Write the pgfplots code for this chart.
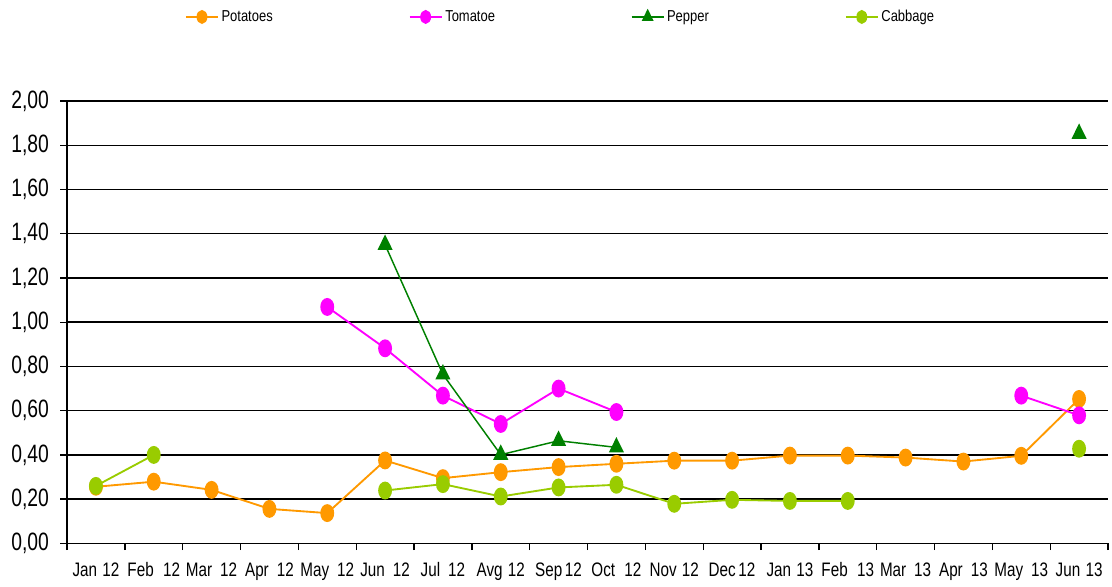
\documentclass[border=0pt]{standalone}
\usepackage{fontspec}
\setmainfont{Liberation Sans}[FakeStretch=0.82]
\newfontfamily\yfont{Liberation Sans}[FakeStretch=0.77]
\newfontfamily\xfont{Liberation Sans}[FakeStretch=0.78]
\usepackage{pgfplots}
\pgfplotsset{compat=1.18}
\definecolor{cpot}{HTML}{FF9900}
\definecolor{ctom}{HTML}{FF00FF}
\definecolor{cpep}{HTML}{008000}
\definecolor{ccab}{HTML}{99CC00}
\begin{document}
\begin{tikzpicture}
\begin{axis}[name=ax, scale only axis, width=780.75bp, height=331.8bp,
  xmin=-0.5, xmax=17.5, ymin=0, ymax=2,
  axis x line=bottom, axis y line=left,
  axis line style={-, line width=1.3bp, black},
  xtick={-0.5,0.5,...,17.5}, xticklabels={},
  extra x ticks={0,1,...,17},
  extra x tick labels={Jan\hspace{4bp}12,Feb\hspace{7bp}12,Mar\hspace{6bp}12,Apr\hspace{6bp}12,May\hspace{6bp}12,Jun\hspace{6bp}12,Jul\hspace{6bp}12,Avg\hspace{4bp}12,Sep\hspace{2bp}12,Oct\hspace{7bp}12,Nov\hspace{4bp}12,Dec\hspace{2bp}12,Jan\hspace{4bp}13,Feb\hspace{7bp}13,Mar\hspace{6bp}13,Apr\hspace{6bp}13,May\hspace{6bp}13,Jun\hspace{4bp}13},
  extra x tick style={major tick length=0pt, grid=none},
  ytick={0,0.2,0.4,0.6,0.8,1.0,1.2,1.4,1.6,1.8,2.0},
  major tick length=5bp, tick align=outside,
  tick style={black, line width=1bp},
  ymajorgrids, major grid style={black, line width=1.1bp},
  yticklabel style={font=\yfont\fontsize{18.9}{21}\selectfont, xshift=-5bp,
    /pgf/number format/.cd, fixed, fixed zerofill, precision=2, use comma, assume math mode=true},
  xticklabel style={font=\xfont\fontsize{14.7}{17}\selectfont, yshift=-11bp},
  unbounded coords=jump,
  legend columns=4,
  legend style={draw=none, fill=none, at={(0.1134,1.19)}, anchor=west,
    inner sep=0pt, outer sep=0pt, font=\fontsize{11.9}{14}\selectfont,
    /tikz/every even column/.append style={column sep=100bp}},
  legend image code/.code={\draw[mark repeat=2, mark phase=2, #1, every mark/.append style={scale=0.75}] plot coordinates {(0bp,0bp) (12bp,0bp) (24bp,0bp)};},
  every axis plot/.append style={line width=1.4bp},
]
\addplot[color=cpot, mark=*, mark size=6bp, mark options={xscale=0.75}] coordinates {
(0,0.256)(1,0.279)(2,0.242)(3,0.156)(4,0.137)(5,0.375)(6,0.295)(7,0.322)(8,0.345)(9,0.360)(10,0.374)(11,0.374)(12,0.397)(13,0.397)(14,0.388)(15,0.370)(16,0.396)(17,0.653)};
\addlegendentry{Potatoes}
\addplot[color=ctom, mark=*, mark size=6bp, mark options={xscale=0.75}] coordinates {
(4,1.069)(5,0.882)(6,0.668)(7,0.540)(8,0.700)(9,0.594)(10,nan)(16,0.668)(17,0.579)};
\addlegendentry{Tomatoe}
\addplot[color=cpep, line width=1.1bp, mark=triangle*, mark size=6.5bp, mark options={xscale=0.85}] coordinates {
(5,1.350)(6,0.764)(7,0.401)(8,0.464)(9,0.434)(10,nan)(17,1.852)};
\addlegendentry{Pepper}
\addplot[color=ccab, mark=*, mark size=6bp, mark options={xscale=0.75}] coordinates {
(0,0.260)(1,0.400)(2,nan)(5,0.239)(6,0.268)(7,0.212)(8,0.253)(9,0.265)(10,0.179)(11,0.197)(12,0.192)(13,0.192)(14,nan)(17,0.428)};
\addlegendentry{Cabbage}
\end{axis}
\pgfresetboundingbox
\path ([shift={(-50.25bp,-32.7bp)}]ax.south west) rectangle ([shift={(3bp,75.75bp)}]ax.north east);
\end{tikzpicture}
\end{document}
